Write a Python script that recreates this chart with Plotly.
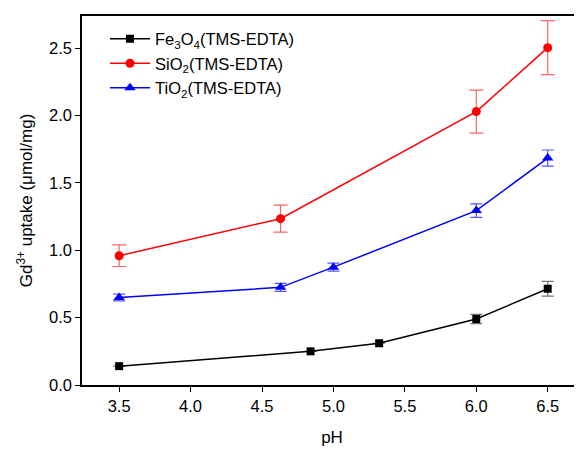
import plotly.graph_objects as go

fe_x = [3.5, 4.84, 5.32, 6.0, 6.5]
fe_y = [0.14, 0.25, 0.31, 0.49, 0.715]
fe_err = [0.0, 0.0, 0.0, 0.035, 0.055]

si_x = [3.5, 4.63, 6.0, 6.5]
si_y = [0.96, 1.235, 2.03, 2.505]
si_err = [0.08, 0.1, 0.16, 0.2]

ti_x = [3.5, 4.63, 5.0, 6.0, 6.5]
ti_y = [0.65, 0.725, 0.875, 1.295, 1.685]
ti_err = [0.025, 0.03, 0.03, 0.05, 0.06]

FONT = "Liberation Sans, Arial, sans-serif"

fig = go.Figure()
fig.add_trace(go.Scatter(
    x=fe_x, y=fe_y, mode="lines+markers", name="Fe<sub>3</sub>O<sub>4</sub>(TMS-EDTA)",
    line=dict(color="black", width=1.5),
    marker=dict(symbol="square", size=8, color="black"),
    error_y=dict(type="data", array=fe_err, color="rgba(80,80,80,0.8)", thickness=1.2, width=6),
))
fig.add_trace(go.Scatter(
    x=si_x, y=si_y, mode="lines+markers", name="SiO<sub>2</sub>(TMS-EDTA)",
    line=dict(color="#ff0000", width=1.5),
    marker=dict(symbol="circle", size=9, color="#ff0000"),
    error_y=dict(type="data", array=si_err, color="rgba(255,60,60,0.8)", thickness=1.2, width=7),
))
fig.add_trace(go.Scatter(
    x=ti_x, y=ti_y, mode="lines+markers", name="TiO<sub>2</sub>(TMS-EDTA)",
    line=dict(color="#0000ff", width=1.5),
    marker=dict(symbol="triangle-up", size=10, color="#0000ff"),
    error_y=dict(type="data", array=ti_err, color="rgba(40,40,255,0.8)", thickness=1.2, width=6),
))

fig.update_layout(
    width=582, height=449,
    margin=dict(l=74, r=8, t=8, b=72),
    paper_bgcolor="white", plot_bgcolor="white",
    font=dict(family=FONT, size=16.5, color="black"),
    showlegend=True,
    legend=dict(x=0.046, y=0.985, xanchor="left", yanchor="top",
                bgcolor="rgba(0,0,0,0)", font=dict(size=16.5), tracegroupgap=0,
                itemwidth=40),
    xaxis=dict(
        range=[3.24, 6.74], tickvals=[3.5, 4.0, 4.5, 5.0, 5.5, 6.0, 6.5],
        ticktext=["3.5", "4.0", "4.5", "5.0", "5.5", "6.0", "6.5"],
        showgrid=False, zeroline=False, showline=True, linecolor="black", linewidth=1.5,
        mirror=True, ticks="outside", ticklen=5, tickwidth=1.2, tickcolor="black",
        automargin=False, tickfont=dict(size=16.5),
        title=dict(text="pH", font=dict(size=17), standoff=18),
    ),
    yaxis=dict(
        range=[0, 2.74], tickvals=[0.0, 0.5, 1.0, 1.5, 2.0, 2.5],
        ticktext=["0.0", "0.5", "1.0", "1.5", "2.0", "2.5"],
        showgrid=False, zeroline=False, showline=True, linecolor="black", linewidth=1.5,
        mirror=True, ticks="outside", ticklen=5, tickwidth=1.2, tickcolor="black",
        automargin=False, tickfont=dict(size=16.5),
        title=dict(text="Gd<sup>3+</sup> uptake (μmol/mg)", font=dict(size=17), standoff=12),
    ),
)

fig.write_html("out.html")
